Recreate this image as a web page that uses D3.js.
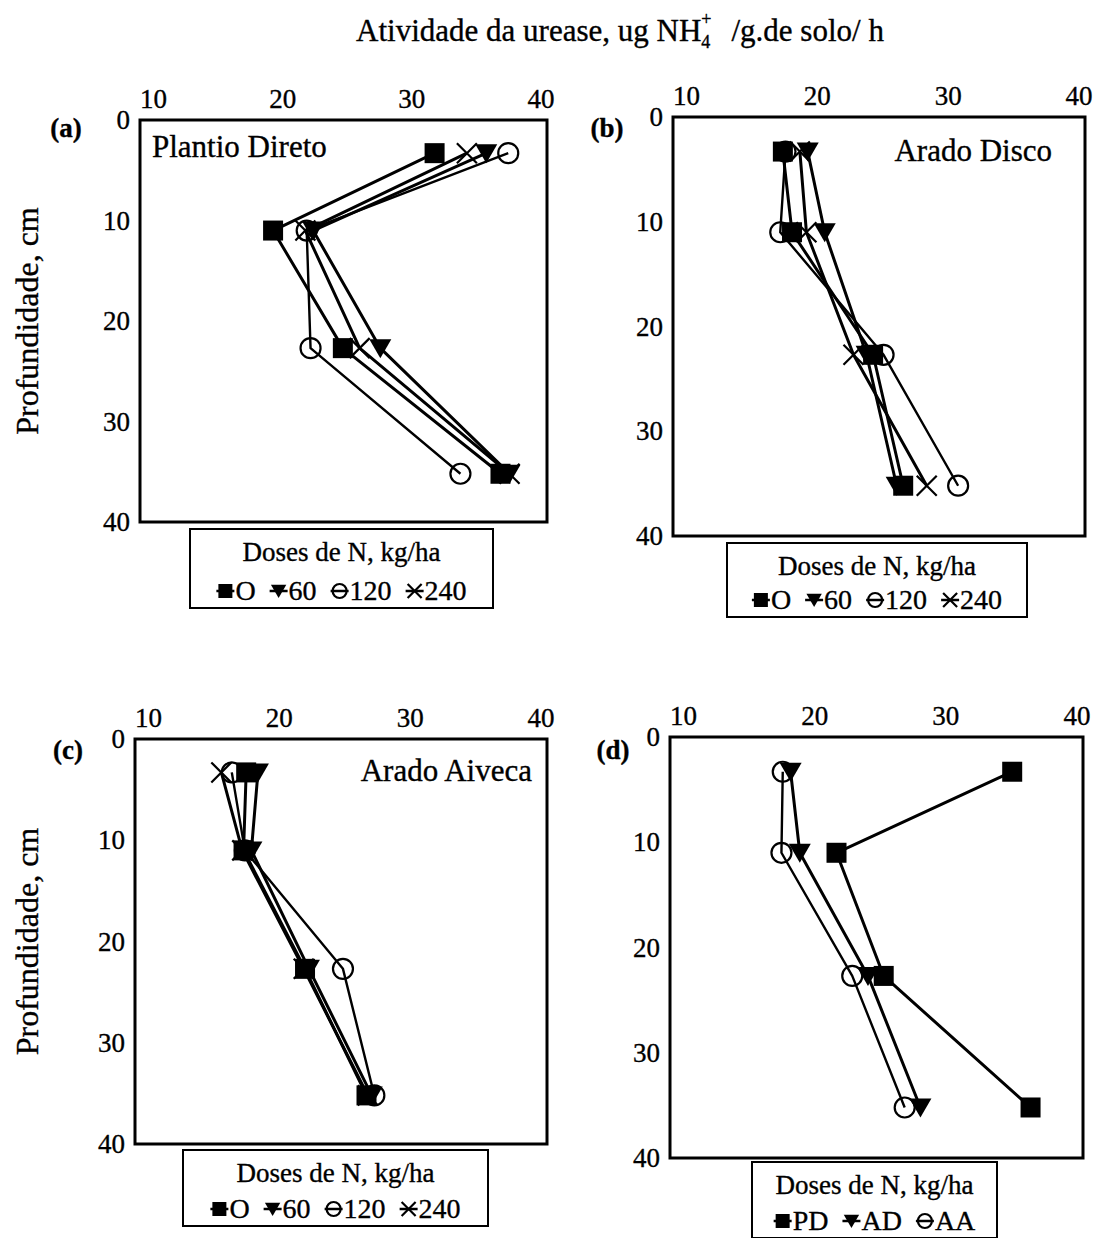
<!DOCTYPE html>
<html><head><meta charset="utf-8">
<script src="https://cdn.jsdelivr.net/npm/d3@7"></script>
<style>body{margin:0;background:#fff}svg{display:block}text{stroke:#000;stroke-width:0.35px}</style>
</head><body>
<svg id="c" width="1098" height="1238"></svg>
<script>
// ---------- data ----------
const depths = [3.3, 11, 22.7, 35.2];
const xTicks = [10, 20, 30, 40];
const yTicks = [0, 10, 20, 30, 40];
const doseLabels = ["O", "60", "120", "240"];
const tillLabels = ["PD", "AD", "AA"];
// (a) Plantio Direto
const pdDose0   = [31.8, 19.3, 24.7, 36.9];
const pdDose60  = [35.8, 22.4, 27.6, 37.6];
const pdDose120 = [37.5, 21.9, 22.2, 33.8];
const pdDose240 = [34.3, 21.8, 26.0, 37.6];
// (b) Arado Disco
const adDose0   = [17.4, 18.1, 24.3, 26.6];
const adDose60  = [19.3, 20.6, 23.8, 26.1];
const adDose120 = [17.6, 17.2, 25.1, 30.8];
const adDose240 = [18.7, 19.2, 22.8, 28.4];
// (c) Arado Aiveca
const aaDose0   = [17.5, 17.3, 22.0, 26.7];
const aaDose60  = [18.4, 17.9, 22.3, 27.1];
const aaDose120 = [16.4, 17.4, 24.9, 27.3];
const aaDose240 = [15.6, 17.2, 21.9, 26.8];
// (d) means per tillage system
const meanPD = [35.1, 21.7, 25.3, 36.5];
const meanAD = [18.2, 18.9, 24.1, 28.1];
const meanAA = [17.6, 17.5, 22.9, 26.9];

const FONT = "'Liberation Serif','Times New Roman',serif";
const svg = d3.select("#c");
svg.append("rect").attr("width",1098).attr("height",1238).attr("fill","#fff");

const doseSymbols = ["square","tri","circle","x"];
const tillSymbols = ["square","tri","circle"];

const panels = [
  {box:[140,547,120,522], label:"(a)", lx:66, ly:131, name:"Plantio Direto", nx:152, ny:157, na:"start",
   series:[pdDose0,pdDose60,pdDose120,pdDose240], syms:doseSymbols, labels:doseLabels,
   legend:[190,529,303,79], ytitle:true},
  {box:[673,1085,117,536], label:"(b)", lx:607, ly:131, name:"Arado Disco", nx:1052, ny:161, na:"end",
   series:[adDose0,adDose60,adDose120,adDose240], syms:doseSymbols, labels:doseLabels,
   legend:[727,543,300,74], ytitle:false},
  {box:[135,547,739,1144], label:"(c)", lx:68, ly:753, name:"Arado Aiveca", nx:532, ny:781, na:"end",
   series:[aaDose0,aaDose60,aaDose120,aaDose240], syms:doseSymbols, labels:doseLabels,
   legend:[183,1150,305,76], ytitle:true},
  {box:[670,1083,737,1158], label:"(d)", lx:613, ly:753, name:null,
   series:[meanPD,meanAD,meanAA], syms:tillSymbols, labels:tillLabels,
   legend:[752,1162,245,76], ytitle:false}
];

function drawMarker(g, type, x, y, s) {
  s = s || 1;
  if (type === "square") {
    g.append("rect").attr("x", x-10*s).attr("y", y-10*s).attr("width", 20*s).attr("height", 20*s).attr("fill","#000");
  } else if (type === "tri") {
    g.append("path").attr("d", `M${x-11*s},${y-9*s}L${x+11*s},${y-9*s}L${x},${y+10*s}Z`).attr("fill","#000");
  } else if (type === "circle") {
    g.append("circle").attr("cx", x).attr("cy", y).attr("r", 10*s).attr("fill","none").attr("stroke","#000").attr("stroke-width",2.2);
  } else if (type === "x") {
    g.append("path").attr("d", `M${x-10*s},${y-10*s}L${x+10*s},${y+10*s}M${x+10*s},${y-10*s}L${x-10*s},${y+10*s}`)
      .attr("stroke","#000").attr("stroke-width",2.2).attr("fill","none");
  }
}

panels.forEach(p => {
  const [L,R,T,B] = p.box;
  const x = d3.scaleLinear().domain([9, 40.5]).range([L, R]);
  const y = d3.scaleLinear().domain([0, 40]).range([T, B]);
  const g = svg.append("g");

  // axes
  const ax = g.append("g").attr("transform", `translate(0,${T})`)
    .call(d3.axisTop(x).tickValues(xTicks).tickSize(0).tickPadding(12));
  ax.select(".domain").remove();
  ax.selectAll("text").attr("font-family", FONT).attr("font-size", 27).attr("fill","#000");
  const ay = g.append("g").attr("transform", `translate(${L},0)`)
    .call(d3.axisLeft(y).tickValues(yTicks).tickSize(0).tickPadding(10));
  ay.select(".domain").remove();
  ay.selectAll("text").attr("font-family", FONT).attr("font-size", 27).attr("fill","#000");

  // frame
  g.append("rect").attr("x", L).attr("y", T).attr("width", R-L).attr("height", B-T)
    .attr("fill","none").attr("stroke","#000").attr("stroke-width",3);

  // lines
  const line = d3.line().x(d => x(d[0])).y(d => y(d[1]));
  p.series.forEach((vals, i) => {
    const pts = vals.map((v, j) => [v, depths[j]]);
    g.append("path").attr("d", line(pts)).attr("fill","none").attr("stroke","#000")
      .attr("stroke-width", p.syms[i] === "circle" ? 2.4 : 3).attr("stroke-linejoin","round");
  });
  // markers
  p.series.forEach((vals, i) => {
    vals.forEach((v, j) => drawMarker(g, p.syms[i], x(v), y(depths[j])));
  });

  // panel name
  if (p.name) g.append("text").attr("x", p.nx).attr("y", p.ny).attr("text-anchor", p.na)
    .attr("font-family", FONT).attr("font-size", 31).text(p.name);
  // panel letter
  g.append("text").attr("x", p.lx).attr("y", p.ly).attr("text-anchor","middle").attr("dominant-baseline","middle")
    .attr("font-family", FONT).attr("font-size", 27).attr("font-weight","bold").text(p.label);
  // y title
  if (p.ytitle) g.append("text").attr("transform", `translate(31,${(T+B)/2}) rotate(-90)`)
    .attr("text-anchor","middle").attr("dominant-baseline","middle")
    .attr("font-family", FONT).attr("font-size", 32).text("Profundidade, cm");

  // legend
  const [lx, ly, lw, lh] = p.legend;
  const lg = svg.append("g");
  lg.append("rect").attr("x", lx).attr("y", ly).attr("width", lw).attr("height", lh)
    .attr("fill","#fff").attr("stroke","#000").attr("stroke-width",2);
  lg.append("text").attr("x", lx + lw/2).attr("y", ly + 32).attr("text-anchor","middle")
    .attr("font-family", FONT).attr("font-size", 27).text("Doses de N, kg/ha");
  const row = lg.append("g");
  let cx = 0;
  const rowY = ly + lh - 17;
  p.labels.forEach((lab, i) => {
    const sx = cx + 9;
    row.append("line").attr("x1", cx).attr("x2", cx+18).attr("y1", rowY).attr("y2", rowY)
      .attr("stroke","#000").attr("stroke-width",2.5);
    drawMarker(row, p.syms[i], sx, rowY, 0.7);
    const t = row.append("text").attr("x", cx + 19).attr("y", rowY + 9)
      .attr("font-family", FONT).attr("font-size", 28).text(lab);
    cx += 19 + t.node().getComputedTextLength() + 14;
  });
  const rowW = cx - 14;
  row.attr("transform", `translate(${lx + (lw - rowW)/2},0)`);
});

// main title
const title = svg.append("text").attr("x", 620).attr("y", 41).attr("text-anchor","middle")
  .attr("font-family", FONT).attr("font-size", 31);
title.append("tspan").text("Atividade da urease, ug NH");
title.append("tspan").attr("font-size", 18).attr("dy", 7).text("4");
title.append("tspan").attr("font-size", 18).attr("dx", -9).attr("dy", -23).text("+");
title.append("tspan").attr("dx", 20).attr("dy", 16).text("/g.de solo/ h");
</script>
</body></html>
